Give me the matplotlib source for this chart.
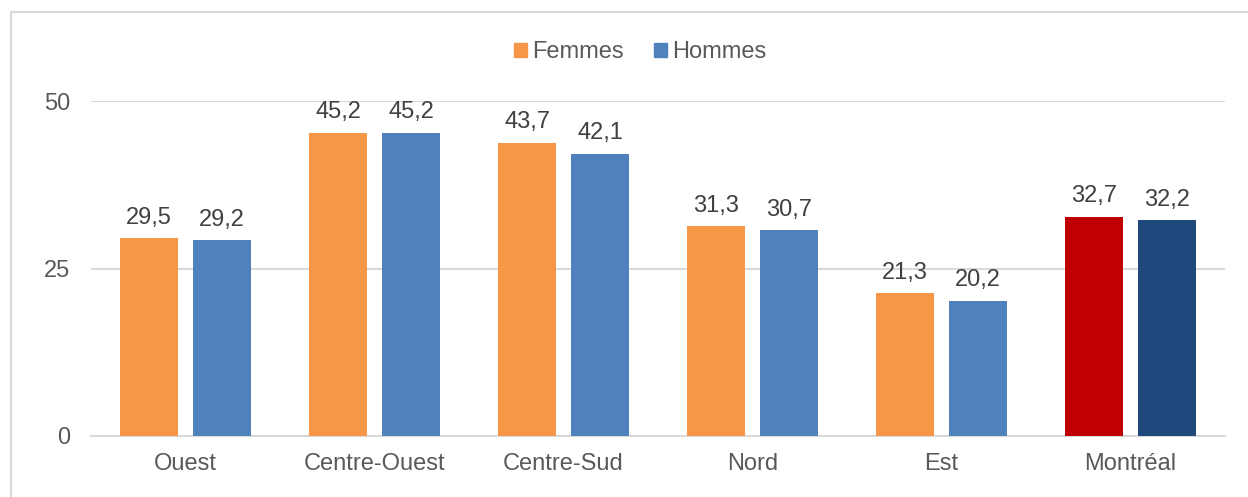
import matplotlib.pyplot as plt
from matplotlib.patches import Rectangle, Patch
import numpy as np

regions = ['Ouest', 'Centre-Ouest', 'Centre-Sud', 'Nord', 'Est', 'Montréal']
femmes = [29.5, 45.2, 43.7, 31.3, 21.3, 32.7]
hommes = [29.2, 45.2, 42.1, 30.7, 20.2, 32.2]

col_f = ['#F79646'] * 5 + ['#C00000']
col_h = ['#4F81BD'] * 5 + ['#1F497D']

plt.rcParams['font.family'] = ['Liberation Sans', 'DejaVu Sans']

fig = plt.figure(figsize=(12.48, 4.97), dpi=100)
ax = fig.add_axes([91 / 1248, 1 - 436 / 497, 1134 / 1248, 335 / 497])

# figure border
fig.patches.append(Rectangle((11 / 1248, -0.1), 1.2, 1 - 12 / 497 + 0.1,
                             transform=fig.transFigure, fill=False,
                             edgecolor='#D9D9D9', linewidth=1.5))

x = np.arange(len(regions))
w = 0.307
off = 0.193
bf = ax.bar(x - off, femmes, w, color=col_f, zorder=3)
bh = ax.bar(x + off, hommes, w, color=col_h, zorder=3)

for bars, vals in ((bf, femmes), (bh, hommes)):
    for b, v in zip(bars, vals):
        ax.annotate(f'{v:.1f}'.replace('.', ','), (b.get_x() + b.get_width() / 2, v),
                    xytext=(0, 7), textcoords='offset points', ha='center', va='bottom',
                    fontsize=17, color='#404040', clip_on=False)

ax.set_xlim(-0.5, len(regions) - 0.5)
ax.set_ylim(0, 50)
ax.set_yticks([0, 25, 50])
ax.set_xticks(x)
ax.set_xticklabels(regions)
ax.tick_params(axis='both', length=0, labelsize=17, labelcolor='#595959')
ax.tick_params(axis='y', pad=15)
ax.tick_params(axis='x', pad=12)
ax.grid(axis='y', color='#D9D9D9', linewidth=1.5, zorder=0)
for s in ['top', 'right', 'left']:
    ax.spines[s].set_visible(False)
ax.spines['bottom'].set_color('#D9D9D9')
ax.spines['bottom'].set_linewidth(1.5)

handles = [Patch(color='#F79646', label='Femmes'), Patch(color='#4F81BD', label='Hommes')]
fig.legend(handles=handles, loc='center', bbox_to_anchor=(640 / 1248, 1 - 52 / 497),
           ncol=2, frameon=False, fontsize=17, labelcolor='#595959',
           handlelength=0.55, handleheight=0.55, handletextpad=0.2, columnspacing=1.3)

fig.savefig('out.png', dpi=100)
